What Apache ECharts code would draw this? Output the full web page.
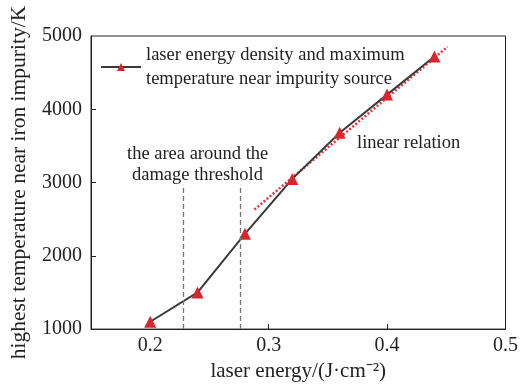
<!DOCTYPE html>
<html><head><meta charset="utf-8">
<script src="https://cdn.jsdelivr.net/npm/echarts@6/dist/echarts.min.js"></script>
<style>html,body{margin:0;padding:0;background:#fff}#c{width:521px;height:387px}</style>
</head><body><div id="c"></div>
<script>
const energy = [0.20, 0.24, 0.28, 0.32, 0.36, 0.40, 0.44];
const temperature = [1100, 1500, 2300, 3050, 3680, 4200, 4720];
const fitX = [0.288, 0.451];
const fitY = [2632, 4853];
const thresholdX = [0.228, 0.276];
const thresholdTop = 2970;
const xTicks = [0.2, 0.3, 0.4, 0.5];
const yTicks = [1000, 2000, 3000, 4000, 5000];
const seriesName = 'laser energy density and maximum\ntemperature near impurity source';

const font = 'Liberation Serif, Times New Roman, serif';
const chart = echarts.init(document.getElementById('c'), null, {renderer: 'canvas'});
chart.setOption({
  animation: false,
  backgroundColor: '#fff',
  textStyle: {fontFamily: font},
  grid: {left: 91, right: 15, top: 36, bottom: 52, show: true, borderColor: '#222', borderWidth: 1, containLabel: false},
  legend: {
    data: [seriesName], left: 95, top: 38, itemWidth: 40, itemHeight: 10, itemGap: 6,
    textStyle: {fontFamily: font, fontSize: 18.5, color: '#222', lineHeight: 24}
  },
  xAxis: {
    type: 'value', min: 0.15, max: 0.5,
    name: 'laser energy/(J·cm⁻²)', nameLocation: 'middle', nameGap: 31,
    nameTextStyle: {fontFamily: font, fontSize: 21, color: '#222'},
    axisLine: {show: true, lineStyle: {color: '#222'}},
    axisTick: {show: true, inside: true, length: 5, customValues: xTicks.slice(1, 3), lineStyle: {color: '#222'}},
    axisLabel: {customValues: xTicks, fontFamily: font, fontSize: 20, color: '#222', margin: 7,
      formatter: v => String(v)},
    splitLine: {show: false}
  },
  yAxis: {
    type: 'value', min: 1000, max: 5000, interval: 1000,
    name: 'highest temperature near iron impurity/K', nameLocation: 'middle', nameGap: 61,
    nameTextStyle: {fontFamily: font, fontSize: 21.5, color: '#222'},
    axisLine: {show: true, lineStyle: {color: '#222'}},
    axisTick: {show: true, inside: true, length: 5, customValues: yTicks.slice(1, 4), lineStyle: {color: '#222'}},
    axisLabel: {customValues: yTicks, fontFamily: font, fontSize: 20, color: '#222', margin: 9,
      formatter: v => String(v)},
    splitLine: {show: false}
  },
  series: [
    {
      name: 'fit', type: 'line', data: fitX.map((x, i) => [x, fitY[i]]),
      symbol: 'none', lineStyle: {color: '#e8323a', width: 2.5, type: [2, 2]}, z: 1,
      markLine: {
        silent: true, symbol: 'none', label: {show: false},
        lineStyle: {color: '#777', width: 1.3, type: [5, 3]},
        data: thresholdX.map(x => [{coord: [x, 1000]}, {coord: [x, thresholdTop]}])
      }
    },
    {
      name: seriesName, type: 'line', data: energy.map((x, i) => [x, temperature[i]]),
      symbol: 'triangle', symbolSize: 12,
      itemStyle: {color: '#d9262c'},
      lineStyle: {color: '#3a3a3a', width: 2}, z: 3
    }
  ],
  graphic: [
    {type: 'text', left: 127, top: 145, style: {text: 'the area around the', font: '18.5px ' + font, fill: '#222'}},
    {type: 'text', left: 132, top: 166, style: {text: 'damage threshold', font: '18.5px ' + font, fill: '#222'}},
    {type: 'text', left: 357, top: 134, style: {text: 'linear relation', font: '18.5px ' + font, fill: '#222'}}
  ]
});
</script></body></html>
